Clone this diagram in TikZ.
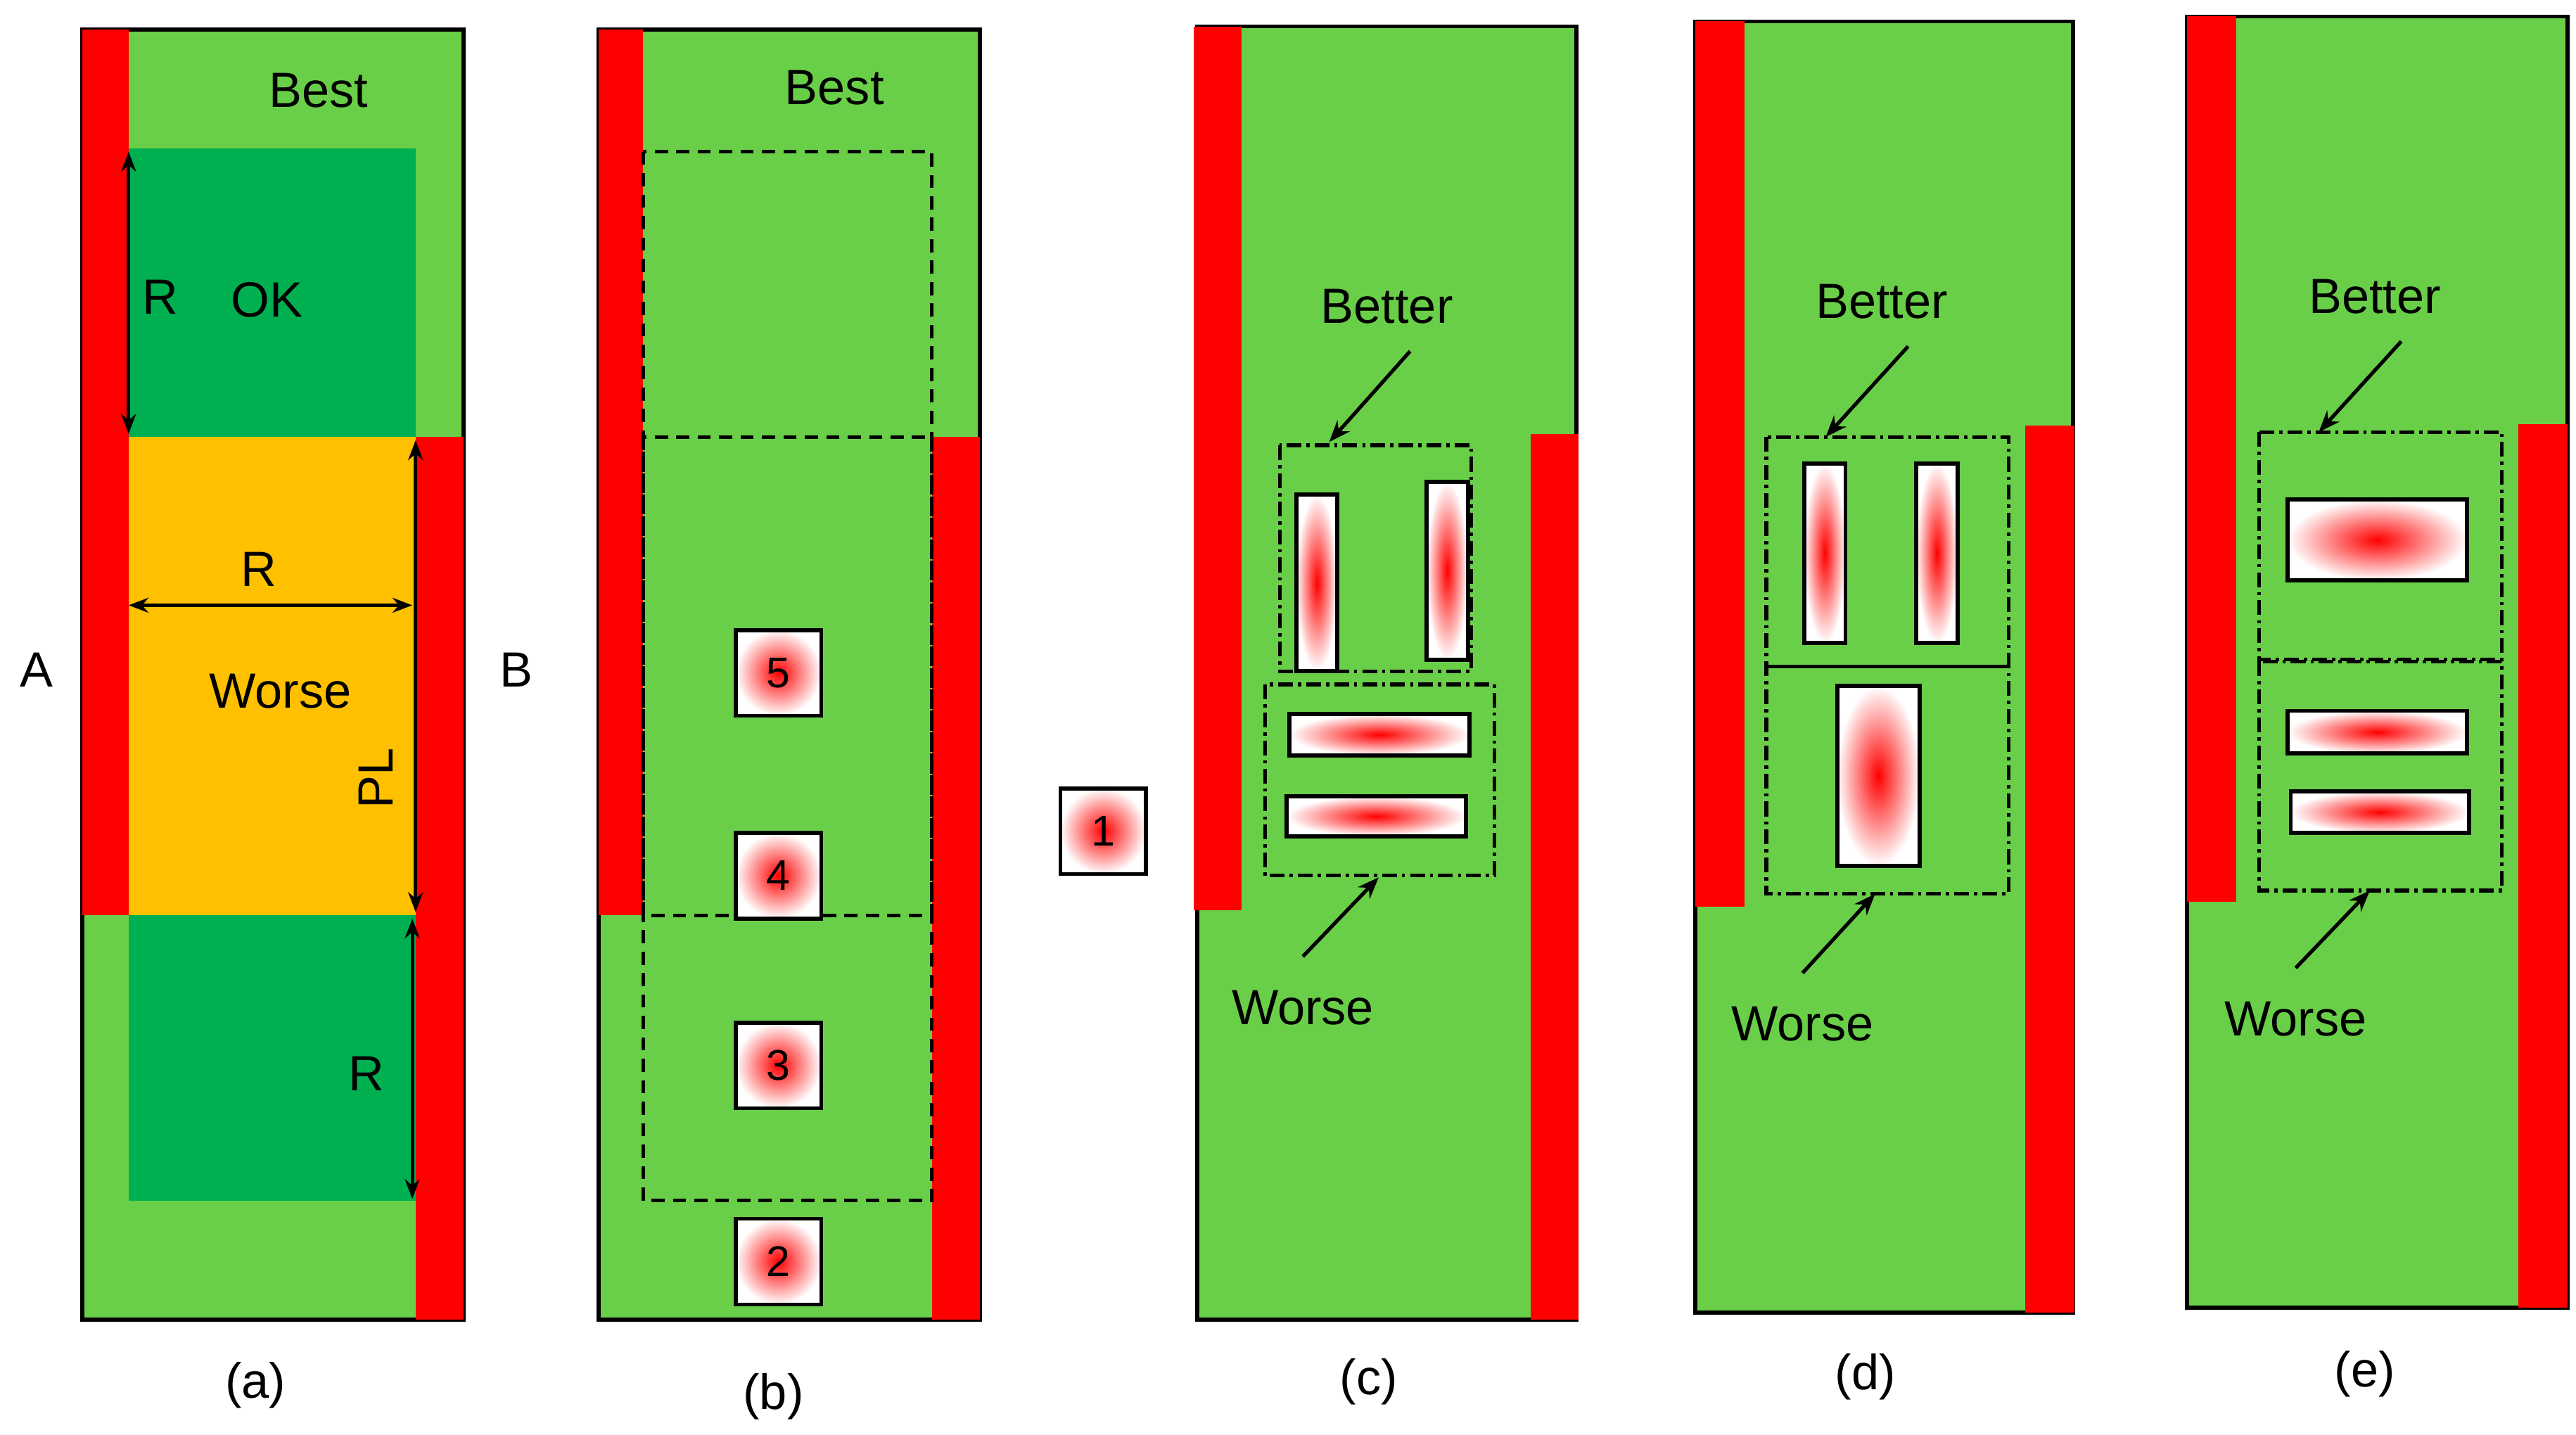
\documentclass[tikz,border=0pt]{standalone}
\usepackage{fontspec}
\setmainfont{Liberation Sans}
\usetikzlibrary{arrows.meta}
\definecolor{lg}{RGB}{106,207,72}
\definecolor{dg}{RGB}{0,176,80}
\definecolor{org}{RGB}{255,192,0}
\definecolor{rd}{RGB}{255,0,0}
\begin{document}
\begin{tikzpicture}[x=1pt,y=-1pt,
  panel/.style={fill=lg,draw=black,line width=2.5pt},
  bar/.style={fill=rd,draw=none},
  grad/.style={draw=black,line width=2.5pt,inner color=rd,outer color=white},
  lbl/.style={font=\fontsize{30}{36}\selectfont,inner sep=0pt},
  num/.style={font=\fontsize{26}{30}\selectfont,inner sep=0pt},
  dbl/.style={{Stealth[length=12pt,width=9pt]}-{Stealth[length=12pt,width=9pt]},line width=2.2pt},
  arr/.style={-{Stealth[length=13pt,width=10pt]},line width=2.2pt},
  dsh/.style={draw=black,dash pattern=on 8pt off 5pt,line width=2.2pt},
  dd/.style={draw=black,dash pattern=on 9pt off 3pt on 2pt off 3pt,line width=2.2pt}]
\useasboundingbox (0,0) rectangle (1562,870);
% ---- (a)
\path[panel] (50,18) rectangle (281,800);
\fill[dg] (78,90) rectangle (252,265);
\fill[org] (78,265) rectangle (252,555);
\fill[dg] (78,555) rectangle (252,728);
\fill[bar] (50,18) rectangle (78,555);
\fill[bar] (252,265) rectangle (281,800);
\node[lbl] (besta) at (193,55) {Best};
\node[lbl] (ra) at (97,180) {R};
\node[lbl] (ok) at (162,182) {OK};
\node[lbl] (rb) at (157,345) {R};
\node[lbl] (worsea) at (170,419) {Worse};
\node[lbl,rotate=90] (pl) at (228,472) {PL};
\node[lbl] (rc) at (222,651) {R};
\node[lbl] (A) at (22,406) {A};
\node[lbl] (B) at (313,406) {B};
\node[lbl] (la) at (155,840) {(a)};
\draw[dbl] (78,92) -- (78,263);
\draw[dbl] (78,367) -- (250,367);
\draw[dbl] (252,267) -- (252,553);
\draw[dbl] (250,557) -- (250,727);
% ---- (b)
\path[panel] (363,18) rectangle (594,800);
\fill[bar] (363,18) rectangle (390,555);
\fill[bar] (565,265) rectangle (594,800);
\draw[dsh] (390,92) rectangle (565,555);
\draw[dsh] (390,265) rectangle (565,728);
\node[lbl] (bestb) at (506,53) {Best};
\foreach \n/\y in {5/408,4/531,3/646,2/765}{
  \node[grad,minimum width=52pt,minimum height=52pt,num] (s\n) at (472,\y) {\n};}
\node[lbl] (lb) at (469,847) {(b)};
\node[grad,minimum width=52pt,minimum height=52pt,num] (s1) at (669,504) {1};
% ---- (c)
\path[panel] (726,16) rectangle (956,800);
\fill[bar] (724,16) rectangle (753,552);
\fill[bar] (928,263) rectangle (957,800);
\draw[dd] (776,270) rectangle (892,407);
\draw[dd] (767,415) rectangle (906,531);
\draw[grad] (786,300) rectangle (811,407);
\draw[grad] (865,292) rectangle (890,400);
\draw[grad] (782,433) rectangle (891,458);
\draw[grad] (780,483) rectangle (889,507);
\node[lbl] (betc) at (841,186) {Better};
\node[lbl] (worc) at (790,611) {Worse};
\draw[arr] (855,213) -- (806,268);
\draw[arr] (790,580) -- (836,532);
\node[lbl] (lc) at (830,838) {(c)};
% ---- (d)
\path[panel] (1028,13) rectangle (1257,796);
\fill[bar] (1028,13) rectangle (1058,550);
\fill[bar] (1228,258) rectangle (1258,796);
\draw[dd] (1071,265) rectangle (1218,542);
\draw[line width=2.2pt] (1071,404) -- (1218,404);
\draw[grad] (1094,281) rectangle (1119,390);
\draw[grad] (1162,281) rectangle (1187,390);
\draw[grad] (1114,416) rectangle (1164,525);
\node[lbl] (betd) at (1141,183) {Better};
\node[lbl] (word) at (1093,621) {Worse};
\draw[arr] (1157,210) -- (1107,265);
\draw[arr] (1093,590) -- (1137,542);
\node[lbl] (ld) at (1131,835) {(d)};
% ---- (e)
\path[panel] (1326,10) rectangle (1557,793);
\fill[bar] (1326,10) rectangle (1356,547);
\fill[bar] (1527,257) rectangle (1557,793);
\draw[dd] (1370,262) rectangle (1517,400);
\draw[dd] (1370,401) rectangle (1517,540);
\draw[grad] (1387,303) rectangle (1496,352);
\draw[grad] (1387,431) rectangle (1496,457);
\draw[grad] (1389,480) rectangle (1497,505);
\node[lbl] (bete) at (1440,180) {Better};
\node[lbl] (wore) at (1392,618) {Worse};
\draw[arr] (1456,207) -- (1406,262);
\draw[arr] (1392,587) -- (1437,540);
\node[lbl] (le) at (1434,833) {(e)};
\end{tikzpicture}
\end{document}
